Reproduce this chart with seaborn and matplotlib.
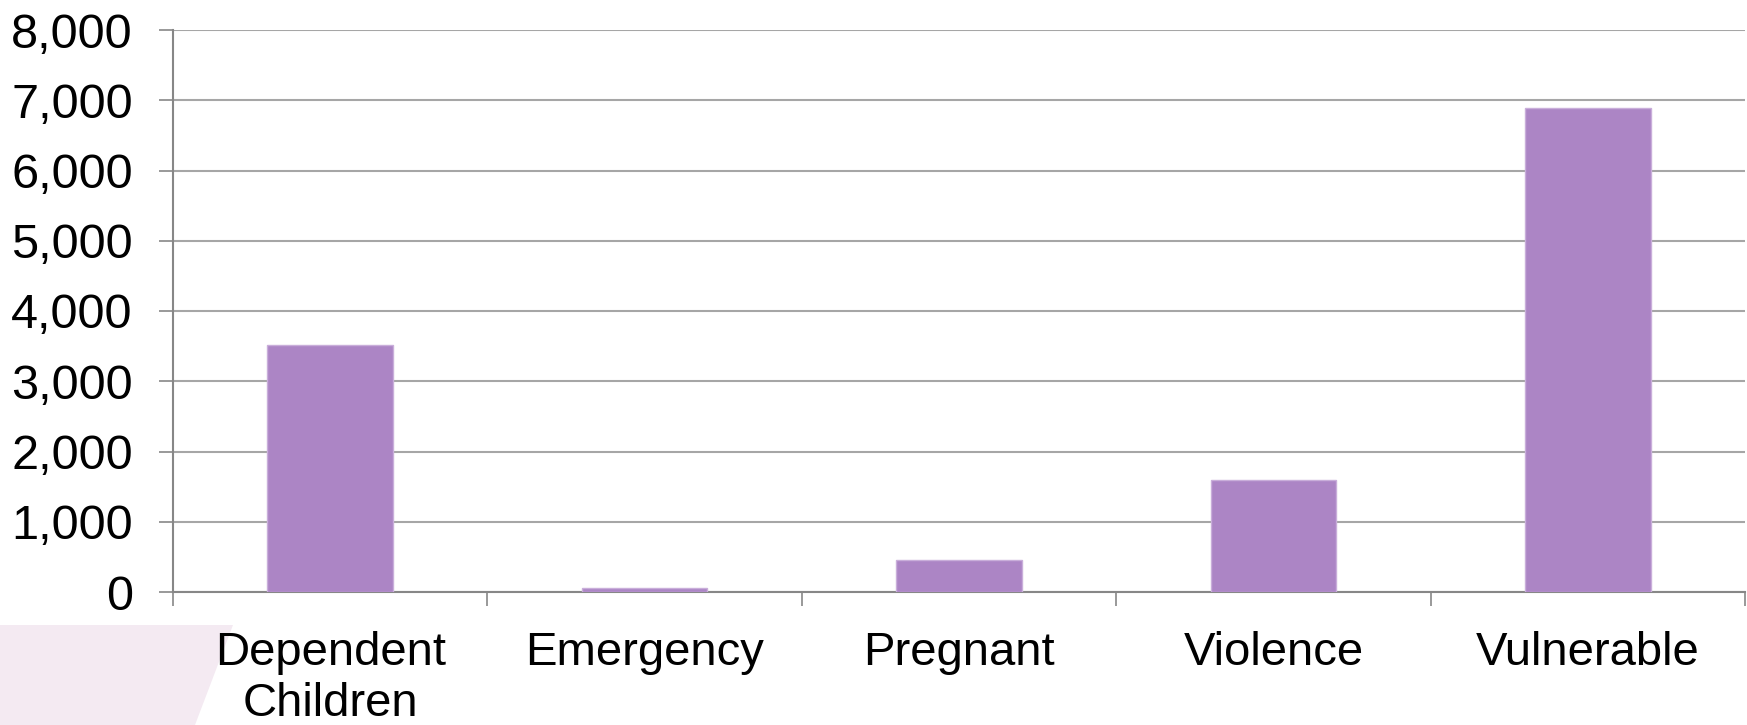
import matplotlib
matplotlib.use("Agg")
import matplotlib.pyplot as plt
import seaborn as sns
import pandas as pd
from matplotlib.patches import Polygon
from matplotlib.ticker import FuncFormatter, FixedLocator

categories = ["Dependent\nChildren", "Emergency", "Pregnant", "Violence", "Vulnerable"]
values = [3510, 60, 455, 1590, 6885]

df = pd.DataFrame({"category": categories, "count": values})

sns.set_style("white")
plt.rcParams["font.family"] = ["Liberation Sans", "DejaVu Sans"]
plt.rcParams["text.color"] = "black"
plt.rcParams["xtick.color"] = "black"
plt.rcParams["ytick.color"] = "black"

fig = plt.figure(figsize=(17.47, 7.25), dpi=100)

# faint pink decoration in bottom-left corner
fig.patches.append(
    Polygon(
        [(0, 0), (195 / 1747, 0), (233 / 1747, 100 / 725), (0, 100 / 725)],
        closed=True, transform=fig.transFigure, facecolor="#F4EAF2",
        edgecolor="none", zorder=-5,
    )
)

ax = fig.add_axes([173 / 1747, 1 - 592 / 725, 1572 / 1747, 562 / 725])
ax.set_facecolor("none")

sns.barplot(
    data=df, x="category", y="count", color="#AC85C5", width=0.4,
    edgecolor="#C9AEDA", linewidth=1, saturation=1, ax=ax, zorder=3,
)

ax.set_ylim(0, 8000)
ax.set_xlim(-0.5, len(categories) - 0.5)
ax.set_yticks(range(0, 8001, 1000))
ax.yaxis.set_major_formatter(FuncFormatter(lambda v, p: f"{int(v):,}"))
ax.yaxis.grid(True, color="#A6A6A6", linewidth=1.5, zorder=0)
ax.set_axisbelow(True)

ax.xaxis.set_minor_locator(FixedLocator([i - 0.5 for i in range(len(categories) + 1)]))
ax.tick_params(axis="x", which="major", length=0, pad=28, labelsize=34, labelcolor="black")
ax.tick_params(axis="x", which="minor", bottom=True, length=10, width=1.2, color="#878787")
ax.tick_params(axis="y", length=10, width=1.2, color="#878787", pad=19, labelsize=35,
               left=True, labelcolor="black")
for lbl in ax.get_xticklabels():
    lbl.set_linespacing(1.2)

for s in ["top", "right"]:
    ax.spines[s].set_visible(False)
for s in ["left", "bottom"]:
    ax.spines[s].set_color("#878787")
    ax.spines[s].set_linewidth(1.5)

ax.set_xlabel("")
ax.set_ylabel("")

fig.savefig("out.png", dpi=100)
